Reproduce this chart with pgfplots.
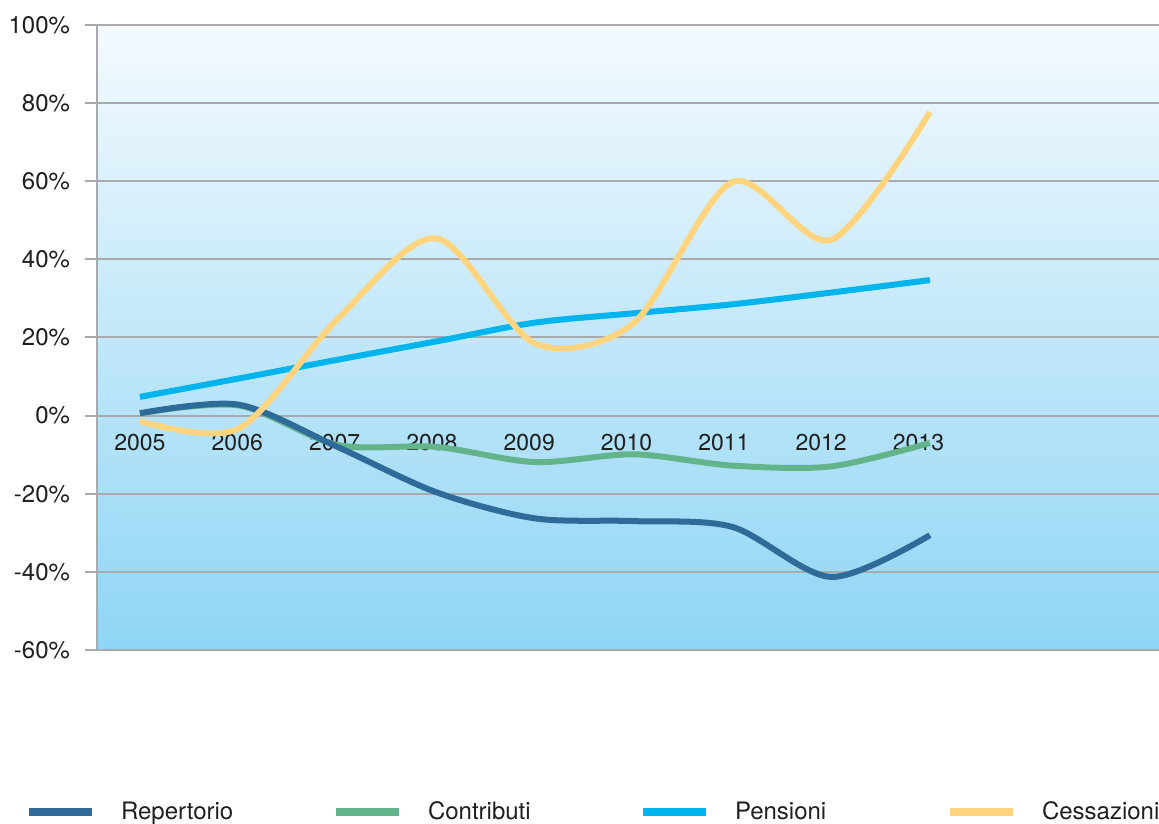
\documentclass[border=0pt]{standalone}
\usepackage{pgfplots}
\pgfplotsset{compat=1.18}
\usepackage{fontspec}
\setmainfont{TeX Gyre Heros}
\definecolor{rep}{HTML}{2E6B99}
\definecolor{con}{HTML}{63B48A}
\definecolor{pen}{HTML}{00B4EE}
\definecolor{ces}{HTML}{FFD47F}
\definecolor{gridc}{HTML}{A9AAAE}
\definecolor{bgtop}{HTML}{F4FAFE}
\definecolor{bgbot}{HTML}{8FD5F5}
\begin{document}
\begin{tikzpicture}
\useasboundingbox (0,0) rectangle (579.5pt,411.5pt);
\begin{axis}[
  at={(48.5pt,86.5pt)}, anchor=south west,
  scale only axis, width=531pt, height=312.5pt,
  xmin=-0.435, xmax=10.32, ymin=-60, ymax=100,
  axis x line=middle, axis y line=left,
  x axis line style={draw=none},
  y axis line style={-, draw=gridc, line width=1pt},
  xtick={0,0.9855,1.971,2.9565,3.942,4.9275,5.913,6.8985,7.884},
  xticklabels={2005,2006,2007,2008,2009,2010,2011,2012,2013},
  ytick={-60,-40,-20,0,20,40,60,80,100},
  yticklabels={-60\%,-40\%,-20\%,0\%,20\%,40\%,60\%,80\%,100\%},
  ymajorgrids, major grid style={gridc, line width=1pt},
  xtick style={draw=none},
  ytick style={draw=gridc, line width=1pt},
  tick align=outside, major tick length=6pt,
  tick label style={font=\fontsize{11.5}{13}\selectfont, text=black!88},
  yticklabel style={font=\fontsize{12}{13}\selectfont, xshift=-4pt},
  xticklabel style={yshift=0pt},
  axis background/.style={top color=bgtop, bottom color=bgbot},
  every axis plot/.append style={line width=3pt, smooth, no markers},
  legend columns=4,
  legend image code/.code={\draw[#1, line width=4pt] (0pt,0pt) -- (31.5pt,0pt);},
  legend style={at={(-0.0678,-0.259)}, anchor=west, draw=none, fill=none,
    inner sep=0pt, outer sep=0pt,
    font=\fontsize{12}{13}\selectfont, text=black!88,
    /tikz/every odd column/.append style={column sep=10.5pt},
    /tikz/every even column/.append style={text width=103.5pt}},
]
\addlegendimage{rep}
\addlegendentry{Repertorio}
\addlegendimage{con}
\addlegendentry{Contributi}
\addlegendimage{pen}
\addlegendentry{Pensioni}
\addlegendimage{ces}
\addlegendentry{Cessazioni}
% Contributi
\addplot[con, forget plot] coordinates {(0,0.6) (1,2.6) (2,-7.5) (3,-8) (4,-11.9) (5,-9.9) (6,-12.8) (7,-13) (8,-7)};
% Repertorio
\addplot[rep, forget plot] coordinates {(0,0.6) (1,2.8) (2,-8) (3,-19.6) (4,-26.3) (5,-27) (6,-28.5) (7,-41.3) (8,-30.6)};
% Pensioni
\addplot[pen, forget plot] coordinates {(0,4.8) (1,9.5) (2,14.3) (3,19) (4,23.8) (5,26.2) (6,28.5) (7,31.5) (8,34.7)};
% Cessazioni
\addplot[ces, forget plot] coordinates {(0,-1.4) (1,-3.3) (2,24.7) (3,45.4) (4,18.5) (5,23.7) (6,59.8) (7,45) (8,77.7)};
\end{axis}
\end{tikzpicture}
\end{document}
